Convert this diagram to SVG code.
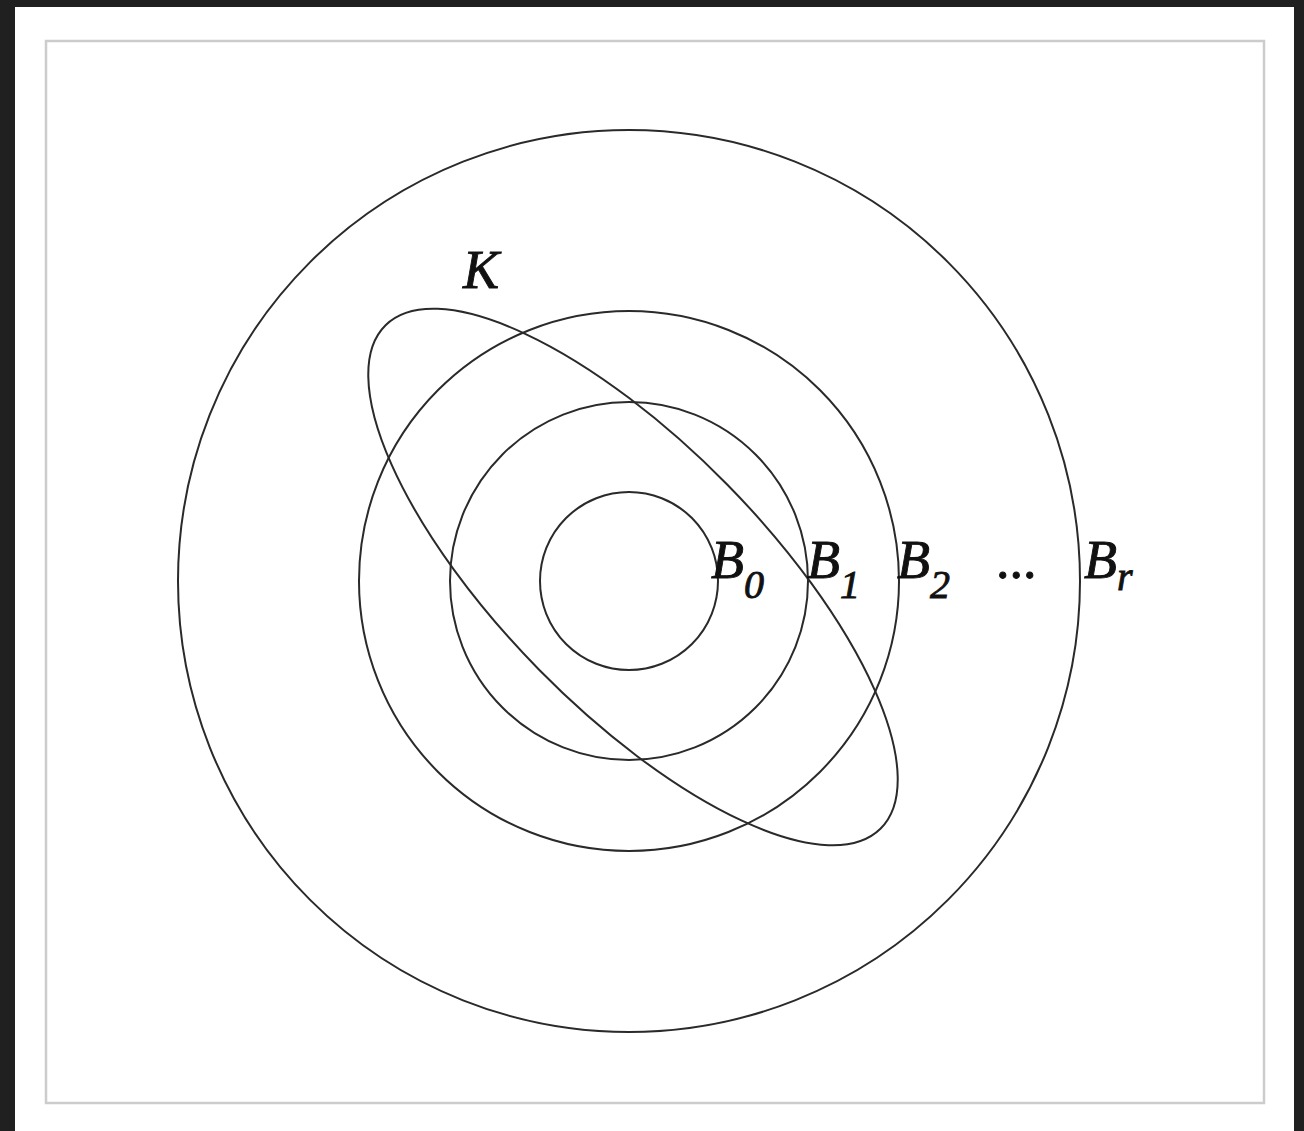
<svg xmlns="http://www.w3.org/2000/svg" width="1304" height="1131" viewBox="0 0 1304 1131">
<style>
.c{fill:none;stroke:#2a2a2a;stroke-width:2}
.t{font-family:"Liberation Serif","Times New Roman",serif;font-style:italic;fill:#111;stroke:#111;stroke-width:0.9}
.m{font-size:54px}
.s{font-size:40px}
</style>
<rect x="0" y="0" width="1304" height="1131" fill="#202020"/>
<rect x="15" y="7" width="1279" height="1124" fill="#ffffff"/>
<rect x="46" y="41" width="1218" height="1062" fill="#ffffff" stroke="#cccccc" stroke-width="2.5"/>
<g id="Br"><circle class="c" cx="629" cy="581" r="451"/></g>
<g id="B2"><circle class="c" cx="629" cy="581" r="270"/></g>
<g id="B1"><circle class="c" cx="629" cy="581" r="179"/></g>
<g id="B0"><circle class="c" cx="629" cy="581" r="89"/></g>
<g id="K"><ellipse class="c" cx="633" cy="577" rx="353" ry="132" transform="rotate(45.5 633 577)"/></g>
<g id="connectors"></g>
<g id="labels">
<text class="t m" x="463" y="288">K</text>
<text class="t m" x="711" y="578">B<tspan class="s" dy="20">0</tspan></text>
<text class="t m" x="807" y="578">B<tspan class="s" dy="20">1</tspan></text>
<text class="t m" x="897" y="578">B<tspan class="s" dy="20">2</tspan></text>
<text class="t m" x="996" y="578" style="font-style:normal">...</text>
<text class="t m" x="1084" y="578">B<tspan class="s" dy="12">r</tspan></text>
</g>
</svg>
